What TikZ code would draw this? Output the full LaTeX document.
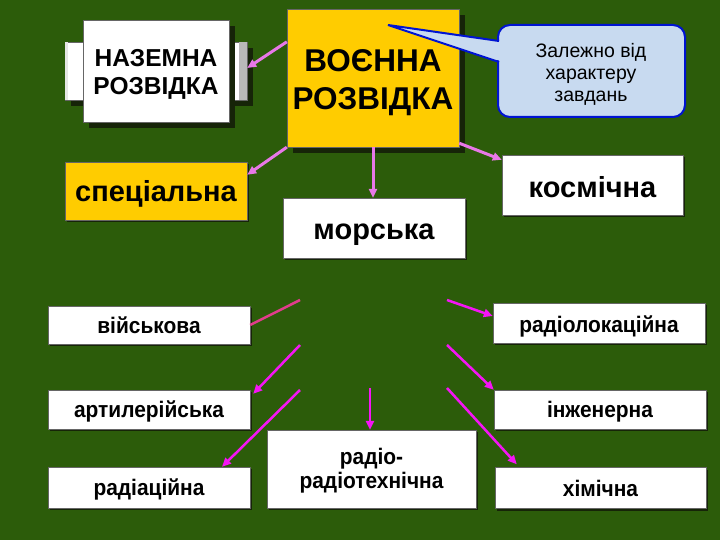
\documentclass[tikz,border=0pt]{standalone}
\usepackage{fontspec}
\setmainfont{Liberation Sans}
\newfontfamily\narrowfont[FakeStretch=0.93]{Liberation Sans}
\usetikzlibrary{arrows.meta,shadows}
\definecolor{bg}{RGB}{44,92,10}
\definecolor{gold}{RGB}{255,204,0}
\definecolor{pinkarr}{RGB}{232,120,232}
\definecolor{magarr}{RGB}{245,20,245}
\definecolor{redarr}{RGB}{225,60,140}
\definecolor{bubble}{RGB}{200,218,240}
\definecolor{bubbleline}{RGB}{0,20,210}
\definecolor{shade}{RGB}{22,36,8}
\begin{document}
\begin{tikzpicture}[x=1pt,y=-1pt,
  box/.style={draw=black!60,fill=white,inner sep=0pt,align=center,font=\bfseries},
  bigshadow/.style={drop shadow={shadow xshift=6pt,shadow yshift=-6pt,opacity=1,fill=shade}},
  smallshadow/.style={drop shadow={shadow xshift=2pt,shadow yshift=-2pt,opacity=1,fill=shade}},
  midbox/.style={box,smallshadow,font=\bfseries\fontsize{29}{33}\selectfont,text depth=0pt},
  lowbox/.style={box,smallshadow,font=\narrowfont\bfseries\fontsize{22.5}{24}\selectfont,text height=16pt,text depth=0pt},
  toparr/.style={-{Triangle[length=9pt,width=8pt]},line width=3pt,pinkarr},
  botarr/.style={-{Triangle[length=9pt,width=8pt]},line width=2.5pt,magarr}]
\fill[bg] (0,0) rectangle (720,540);
\useasboundingbox (0,0) rectangle (720,540);
\node[box,bigshadow,minimum width=182,minimum height=58] (nazbar) at (156,71) {};
\fill[gray!55] (239,42) rectangle (247,100);
\fill[gray!20] (65,42) rectangle (68,100);
\node[box,bigshadow,minimum width=146,minimum height=102,font=\bfseries\fontsize{24.5}{28}\selectfont,text height=48pt,text depth=0pt] (nazemna) at (156,71) {НАЗЕМНА\\РОЗВІДКА};
\node[box,bigshadow,fill=gold,minimum width=172,minimum height=138,font=\bfseries\fontsize{31.5}{38}\selectfont,text height=64pt,text depth=0pt] (voenna) at (373,78) {ВОЄННА\\РОЗВІДКА};
\fill[bubble] (388,25) -- (500,41) -- (500,62) -- cycle;
\draw[bubbleline,fill=bubble,line width=2pt,rounded corners=12pt] (498,25) rectangle (685,117);
\fill[bubble] (388,25) -- (502,41.5) -- (502,61.5) -- cycle;
\draw[bubbleline,line width=2pt] (499,41) -- (388,25) -- (499,62);
\node[align=center,inner sep=0pt,font=\fontsize{19.5}{22}\selectfont,text height=62pt,text depth=0pt] (callout) at (591,71) {Залежно від\\характеру\\завдань};
\node[midbox,fill=gold,minimum width=182,minimum height=58,text height=21pt] (spec) at (156,191) {спеціальна};
\node[midbox,minimum width=182,minimum height=60,text height=24pt] (morska) at (374,228) {морська};
\node[midbox,minimum width=181,minimum height=60,text height=24pt] (kosm) at (592.5,185) {космічна};
\node[lowbox,minimum width=202,minimum height=38] (viysk) at (149,325) {військова};
\node[lowbox,minimum width=212,minimum height=40,text height=18pt] (radloc) at (599,323) {радіолокаційна};
\node[lowbox,minimum width=202,minimum height=39] (artyl) at (149,409.5) {артилерійська};
\node[lowbox,minimum width=212,minimum height=39] (inzh) at (600,409.5) {інженерна};
\node[lowbox,minimum width=202,minimum height=41] (radiats) at (149,487.5) {радіаційна};
\node[lowbox,minimum width=209,minimum height=78,text height=38pt,text depth=0pt] (radiotech) at (371.5,469) {радіо-\\радіотехнічна};
\node[lowbox,minimum width=211,minimum height=41] (khim) at (600.5,488) {хімічна};
\draw[toparr] ([yshift=-33pt]voenna.north west) -- ([yshift=3pt]nazbar.east);
\draw[toparr] (voenna.south west) -- ([yshift=-13pt]spec.north east);
\draw[toparr] (voenna.south) -- (voenna.south |- morska.north);
\draw[toparr] ([yshift=4pt]voenna.south east) -- ([yshift=-5pt]kosm.north west);
\coordinate (c1) at (300,300);
\coordinate (c2) at (447,300);
\coordinate (c3) at (300,345);
\coordinate (c4) at (300,390);
\coordinate (c5) at (370,388);
\coordinate (c6) at (447,345);
\coordinate (c7) at (447,388);
\draw[line width=2.5pt,redarr] (c1) -- (viysk.east);
\draw[botarr] (c2) -- ([yshift=7pt]radloc.west);
\draw[botarr] (c3) -- ([shift={(3,4)}]artyl.north east);
\draw[botarr] (c4) -- ([xshift=73pt]radiats.north);
\draw[botarr] (c5) -- (c5 |- radiotech.north);
\draw[botarr] (c6) -- (inzh.north west);
\draw[botarr] (c7) -- ([xshift=22pt,yshift=3pt]khim.north west);
\end{tikzpicture}
\end{document}
